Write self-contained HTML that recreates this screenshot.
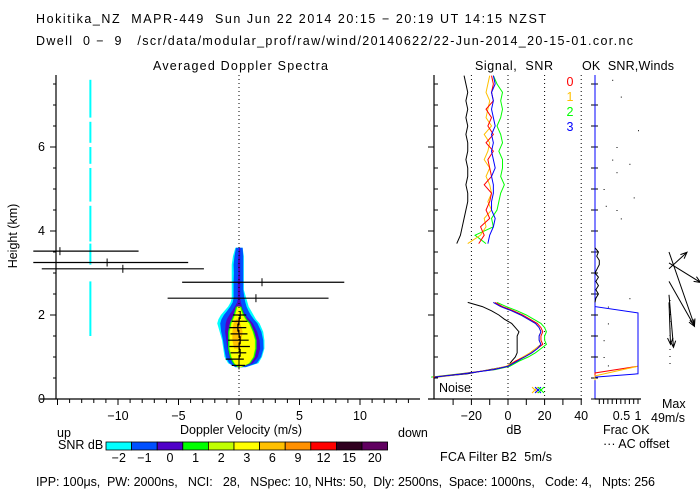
<!DOCTYPE html>
<html><head><meta charset="utf-8">
<style>
html,body{margin:0;padding:0;background:#fff;}
svg{display:block;font-family:"Liberation Sans",sans-serif;}
text{font-size:12.5px;fill:#000;white-space:pre;}
</style></head>
<body>
<svg id="chart" width="700" height="500" viewBox="0 0 700 500" xmlns="http://www.w3.org/2000/svg" xml:space="preserve">
<text x="36" y="23" textLength="510" lengthAdjust="spacing">Hokitika_NZ  MAPR-449  Sun Jun 22 2014 20:15 − 20:19 UT 14:15 NZST</text>
<text x="36" y="45" textLength="597" lengthAdjust="spacing">Dwell  0 −  9   /scr/data/modular_prof/raw/wind/20140622/22-Jun-2014_20-15-01.cor.nc</text>
<text x="153" y="70" textLength="175" lengthAdjust="spacing">Averaged Doppler Spectra</text>
<text x="475" y="70" textLength="78" lengthAdjust="spacing">Signal,  SNR</text>
<text x="582" y="70" textLength="92" lengthAdjust="spacing">OK  SNR,Winds</text>
<text transform="translate(17,236) rotate(-90)" text-anchor="middle">Height (km)</text>
<g id="g"></g>
<text x="180" y="434" textLength="122" lengthAdjust="spacing">Doppler Velocity (m/s)</text>
<text x="57" y="437">up</text>
<text x="398" y="437">down</text>
<text x="514" y="434" text-anchor="middle">dB</text>
<text x="603" y="434">Frac OK</text>
<text x="603" y="448">··· AC offset</text>
<text x="662" y="408">Max</text>
<text x="651" y="422">49m/s</text>
<text x="58" y="449">SNR dB</text>
<text x="440" y="461" textLength="112" lengthAdjust="spacing">FCA Filter B2  5m/s</text>
<text x="36" y="486" textLength="619" lengthAdjust="spacing">IPP: 100μs,  PW: 2000ns,   NCI:   28,   NSpec: 10, NHts: 50,  Dly: 2500ns,  Space: 1000ns,   Code: 4,   Npts: 256</text>
<text x="439" y="392">Noise</text>
</svg>
<script>
// ---- data ----
const heightTicks=[0,2,4,6];
const velTicks=[-10,-5,0,5,10];
const dbTicks=[-20,0,20,40];
const fracTicks=[0.5,1];
const snrLevels=["-2","-1","0","1","2","3","6","9","12","15","20"];
const snrColors=["#00ffff","#0050ff","#5000c8","#00ff00","#c0ff00","#ffff00","#ffc000","#ff9000","#ff0000","#300020","#600060"];
const specH=[0.76,0.85,1.0,1.2,1.4,1.6,1.8,1.9,2.0,2.1,2.2,2.3,2.4,2.6,2.8,3.0,3.2,3.4,3.6];
const cyanL=[-0.3,-0.9,-1.2,-1.3,-1.4,-1.6,-1.8,-1.7,-1.5,-1.2,-0.9,-0.7,-0.6,-0.6,-0.6,-0.6,-0.6,-0.5,-0.3];
const cyanR=[0.6,1.6,1.9,2.1,2.1,2.0,1.7,1.4,1.2,1.0,0.8,0.7,0.6,0.4,0.4,0.4,0.4,0.4,0.3];
const blueL=[-0.1,-0.5,-0.8,-0.95,-1.05,-1.15,-1.1,-1.0,-0.8,-0.55,-0.35,-0.15,-0.1,-0.1,-0.1,-0.05,-0.1,-0.05,0.0];
const blueR=[0.3,1.15,1.55,1.75,1.7,1.5,1.15,0.85,0.55,0.35,0.25,0.15,0.1,0.1,0.1,0.1,0.1,0.1,0.1];
const yelL=[0.0,-0.35,-0.6,-0.75,-0.75,-0.75,-0.6,-0.45,-0.3,-0.2,-0.1];
const yelR=[0.1,0.8,1.15,1.3,1.3,1.1,0.8,0.5,0.3,0.15,0.05];
const orgH=[1.2,1.4,1.6,1.8,1.9];
const orgL=[-0.4,-0.55,-0.55,-0.45,-0.2];
const orgR=[0.1,0.2,0.3,0.1,0.0];
const cyanStripeV=-12.3;
const stripeSegs=[[1.5,2.8],[3.2,3.7],[3.75,4.6],[4.7,5.5],[5.6,6.0],[6.1,6.6],[6.7,7.6]];
const ebH=[3.52,3.25,3.1,2.78,2.4,2.0,1.85,1.7,1.55,1.4,1.25,1.1,0.95,0.8];
const ebL=[-17,-17,-16.3,-4.7,-5.9,-0.5,-0.6,-0.8,-0.7,-0.9,-0.8,-0.7,-1.1,-0.6];
const ebR=[-8.3,-4.2,-2.9,8.7,7.4,0.6,0.7,0.6,0.7,0.8,0.9,0.6,0.4,0.5];
const ebC=[-14.8,-10.9,-9.6,1.9,1.4,0.1,0.0,-0.1,0.0,0.1,0.0,0.1,0.0,0.0];
const lowH=[0.52,0.6,0.7,0.78,0.9,1.0,1.1,1.2,1.3,1.4,1.5,1.6,1.7,1.8,1.9,2.0,2.1,2.2,2.3];
const snr0=[-41,-25,-8,0,4,9,13,16,19,18,18,19,18,16,12,8,3,-3,-7];
const snr1=[-38,-24,-9,-1,4,8,12,15,18,17,17,18,17,15,11,7,2,-4,-8];
const snr2=[-42,-26,-7,1,6,11,15,18,21,20,20,21,20,18,14,10,5,-1,-6];
const snr3=[-40,-24,-8,0,5,9,13,16,18,17,17,18,17,15,11,7,2,-4,-8];
const sigLow=[-40,-22,-10,0,2,4,5,5,5,5,5,6,4,2,-2,-5,-9,-14,-22];
const upH=[3.7,3.9,4.1,4.3,4.5,4.7,4.9,5.1,5.3,5.5,5.7,5.9,6.1,6.3,6.5,6.7,6.9,7.1,7.3,7.5,7.7];
const sigUp=[-28,-26,-25,-24,-23,-22,-22,-23,-22,-22,-23,-22,-22,-23,-22,-23,-22,-23,-22,-23,-24];
const up0=[-16,-13,-15,-10,-12,-10,-9,-13,-9,-10,-11,-8,-12,-8,-11,-9,-12,-8,-9,-8,-9];
const up1=[-22,-15,-12,-13,-9,-11,-9,-10,-12,-10,-13,-11,-10,-13,-9,-12,-11,-10,-12,-11,-10];
const up2=[-12,-18,-8,-9,-6,-5,-4,-2,-4,-3,-3,-5,-3,-4,-6,-4,-3,-4,-3,-6,-8];
const up3=[-11,-10,-8,-7,-9,-9,-8,-8,-9,-7,-8,-9,-8,-9,-7,-8,-9,-8,-9,-7,-8];
const fracH=[7.7,2.2,2.05,0.6,0.52];
const fracBlue=[0,0,1,1,0];
const fracRedH=[0.78,0.62,0.45];
const fracRed=[1,0,0];
const fracOrgH=[0.78,0.55,0.45];
const fracOrg=[1,0,0];
const acH=[3.6,3.5,3.4,3.3,3.2,3.1,3.0,2.9,2.8,2.7,2.6,2.5,2.4,2.3];
const acV=[0.0,0.08,0.04,0.1,0.1,0.05,0.0,0.08,0.02,0.08,0.02,0.08,0.02,0.0];
const dotH=[7.6,7.2,6.4,6.0,5.6,5.4,5.0,4.3,4.6,4.8,5.7,4.5,2.4,2.2,1.8,1.4,1.0,0.8];
const dotF=[0.4,0.6,1.0,0.5,0.8,0.5,0.2,0.6,0.25,0.9,0.4,0.5,0.8,0.3,0.3,0.2,0.2,0.3];
const windH=[3.1,3.5,3.24,2.8,2.48,2.3];
const windU=[12,17,21,17,3,1];
const windV=[11,-49,-13,-30,-35,-28];

const yH=h=>399-42*h;
const xV=v=>239+12.1*v;
const xDb=d=>508+1.83*d;
const xF=f=>595+43*f;
const NS="http://www.w3.org/2000/svg";
const g=document.getElementById('g');
function mk(tag,at,parent){const e=document.createElementNS(NS,tag);for(const k in at)e.setAttribute(k,at[k]);(parent||g).appendChild(e);return e;}
function txt(x,y,s,anchor){const t=mk('text',{x:x,y:y,'text-anchor':anchor||'middle'});t.textContent=s;return t;}

stripeSegs.forEach(s=>{
 const r=mk('rect',{x:xV(cyanStripeV)-0.8,y:yH(s[1]),width:2,height:yH(s[0])-yH(s[1]),fill:'#00ffff'});
 
 
});
function blob(H,L,R,color,name){
 let pts=[];
 for(let i=0;i<L.length;i++)pts.push(xV(L[i])+','+yH(H[i]));
 for(let i=R.length-1;i>=0;i--)pts.push(xV(R[i])+','+yH(H[i]));
 const p=mk('polygon',{points:pts.join(' '),fill:color});
 
 
}
blob(specH,cyanL,cyanR,'#00ffff','contour-snr-m2');
blob(specH,blueL.map((v,i)=>(v+cyanL[i])/2-0.1),blueR.map((v,i)=>(v+cyanR[i])/2+0.1),'#0050ff','contour-snr-m1');
blob(specH,blueL,blueR,'#5000c8','contour-snr-0');
blob(specH.slice(0,11),yelL.map(v=>v-0.15),yelR.map(v=>v+0.15),'#00ff00','contour-snr-1');
blob(specH.slice(0,11),yelL.map(v=>v-0.05),yelR.map(v=>v+0.05),'#c0ff00','contour-snr-2');
blob(specH.slice(0,11),yelL,yelR,'#ffff00','contour-snr-3');
blob(orgH,orgL,orgR,'#ffc000','contour-snr-6');

mk('line',{x1:xV(0),y1:75,x2:xV(0),y2:399,stroke:'#000','stroke-dasharray':'1,3'});
ebH.forEach((h,i)=>{
 const y=yH(h);
 const l=mk('line',{x1:Math.max(0,xV(ebL[i])),y1:y,x2:xV(ebR[i]),y2:y,stroke:'#000','stroke-width':1.2});
 
 
 mk('line',{x1:xV(ebC[i]),y1:y-4,x2:xV(ebC[i]),y2:y+4,stroke:'#000'});
});
mk('polyline',{points:ebH.slice(5).map((h,i)=>xV(ebC[i+5])+','+yH(h)).join(' '),fill:'none',stroke:'#000'});

mk('line',{x1:56,y1:75,x2:56,y2:399,stroke:'#000','stroke-width':1.2});
mk('line',{x1:40,y1:399,x2:420,y2:399,stroke:'#000','stroke-width':1.2});
for(let h=0;h<=7.5;h+=0.5){mk('line',{x1:h%2===0?50:53,y1:yH(h),x2:56,y2:yH(h),stroke:'#000'});}
heightTicks.forEach(h=>{const t=txt(45,yH(h)+4,String(h),'end');});
for(let v=-15;v<=14;v++){const mj=v%5===0;mk('line',{x1:xV(v),y1:399,x2:xV(v),y2:mj?405:403,stroke:'#000'});}
velTicks.forEach(v=>{const t=txt(xV(v),420,v<0?'−'+(-v):String(v));});

mk('line',{x1:434,y1:75,x2:434,y2:399,stroke:'#000','stroke-width':1.2});
mk('line',{x1:428,y1:399,x2:582,y2:399,stroke:'#000','stroke-width':1.2});
for(let h=0;h<=7.5;h+=0.5){mk('line',{x1:h%2===0?428:434,y1:yH(h),x2:h%2===0?434:438,y2:yH(h),stroke:'#000'});}
dbTicks.forEach(d=>{mk('line',{x1:xDb(d),y1:75,x2:xDb(d),y2:399,stroke:'#000','stroke-dasharray':'1,3'});
 const t=txt(xDb(d),420,d<0?'−'+(-d):String(d));});
for(let d=-30;d<=40;d+=10){mk('line',{x1:xDb(d),y1:399,x2:xDb(d),y2:405,stroke:'#000'});}
function prof(H,D,color,name){
 const p=mk('polyline',{points:H.map((h,i)=>xDb(D[i])+','+yH(h)).join(' '),fill:'none',stroke:color});
 
 
}
prof(lowH,sigLow,'#000','signal-low');
prof(upH,sigUp,'#000','signal-high');
prof(lowH,snr2,'#00ff00','snr-beam-2-low');prof(lowH,snr1,'#ffc000','snr-beam-1-low');prof(lowH,snr0,'#ff0000','snr-beam-0-low');prof(lowH,snr3,'#0000ff','snr-beam-3-low');
prof(upH,up2,'#00ff00','snr-beam-2-high');prof(upH,up1,'#ffc000','snr-beam-1-high');prof(upH,up0,'#ff0000','snr-beam-0-high');prof(upH,up3,'#0000ff','snr-beam-3-high');
[['#ffc000',535],['#0000ff',538],['#00ff00',541]].forEach(c=>{const t=mk('text',{x:c[1],y:395,'text-anchor':'middle',style:'fill:'+c[0]+';font-size:15px'});t.textContent='×';});
[['0','#ff0000'],['1','#ffc000'],['2','#00ff00'],['3','#0000ff']].forEach((b,i)=>{
 const t=mk('text',{x:570,y:86+15*i,'text-anchor':'middle',style:'fill:'+b[1]});t.textContent=b[0];
 });

mk('line',{x1:595,y1:75,x2:595,y2:399,stroke:'#0000ff'});
mk('line',{x1:595,y1:399,x2:641,y2:399,stroke:'#000','stroke-width':1.2});
for(let h=0;h<=7.5;h+=0.5){mk('line',{x1:591,y1:yH(h),x2:598,y2:yH(h),stroke:'#000'});}
for(let f=0.1;f<=1.01;f+=0.1){mk('line',{x1:xF(f),y1:399,x2:xF(f),y2:404,stroke:'#000'});}
fracTicks.forEach(f=>{const t=txt(xF(f)+(f===1?0:5),420,String(f));});
mk('polyline',{points:fracRedH.map((h,i)=>xF(fracRed[i])+','+yH(h)).join(' '),fill:'none',stroke:'#ff0000'});
mk('polyline',{points:fracOrgH.map((h,i)=>xF(fracOrg[i])+','+yH(h)).join(' '),fill:'none',stroke:'#ffc000'});
const fb=mk('polyline',{points:fracH.map((h,i)=>xF(fracBlue[i])+','+yH(h)).join(' '),fill:'none',stroke:'#0000ff'});


mk('polyline',{points:acH.map((h,i)=>xF(acV[i])+','+yH(h)).join(' '),fill:'none',stroke:'#000'});
dotH.forEach((h,i)=>mk('rect',{x:xF(dotF[i]),y:yH(h),width:1,height:1,fill:'#000'}));
mk('line',{x1:670,y1:300,x2:670,y2:368,stroke:'#000','stroke-dasharray':'1,6'});

windH.forEach((h,i)=>{
 const x0=669,y0=yH(h),x1=x0+1.5*windU[i],y1=y0-1.5*windV[i];
 const a=Math.atan2(y1-y0,x1-x0),L=7;
 const p=mk('path',{d:`M${x0},${y0}L${x1},${y1}M${x1-L*Math.cos(a-0.4)},${y1-L*Math.sin(a-0.4)}L${x1},${y1}L${x1-L*Math.cos(a+0.4)},${y1-L*Math.sin(a+0.4)}`,fill:'none',stroke:'#000'});
 
 
});

const cbX=106,cbW=25.6;
snrColors.forEach((c,i)=>{
 const r=mk('rect',{x:cbX+cbW*i,y:442,width:cbW,height:8,fill:c,stroke:'#000','stroke-width':0.8});
 
 
 const t=txt(cbX+cbW*i+cbW/2,462,snrLevels[i].replace('-','−'));
 
 
});
</script>
</body></html>
